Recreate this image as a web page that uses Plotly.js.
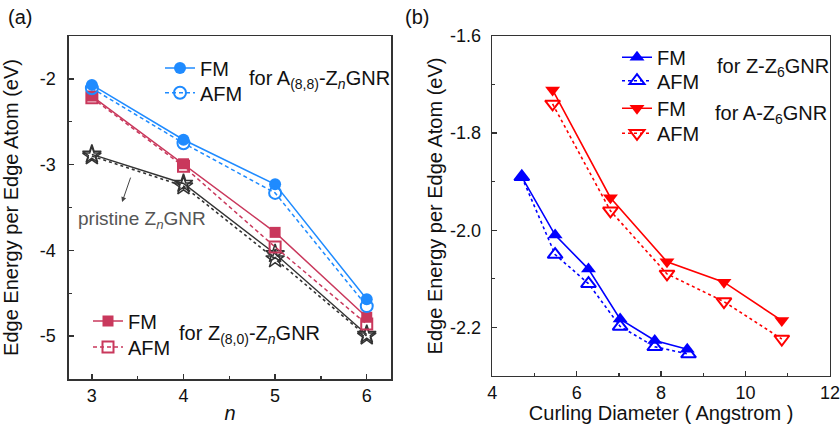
<!DOCTYPE html>
<html>
<head>
<meta charset="utf-8">
<script src="https://cdn.plot.ly/plotly-3.0.1.min.js"></script>
<style>html,body{margin:0;padding:0;background:#fff;}#chart{width:840px;height:424px;}</style>
</head>
<body>
<div id="chart"></div>
<script>
// ---- Panel (a) data ----
var nVals = [3, 4, 5, 6];
var fmA88 = [-2.07, -2.71, -3.23, -4.57];
var afmA88 = [-2.11, -2.75, -3.33, -4.65];
var fmZ80 = [-2.20, -2.99, -3.79, -4.78];
var afmZ80 = [-2.22, -3.02, -3.96, -4.86];
var pristineSolid = [-2.88, -3.22, -4.04, -4.98];
var pristineDotted = [-2.90, -3.25, -4.10, -5.00];
var aXTickVals = [3, 4, 5, 6];
var aXTickText = ["3", "4", "5", "6"];
var aYTickVals = [-2, -3, -4, -5];
var aYTickText = ["-2", "-3", "-4", "-5"];

// ---- Panel (b) data ----
var dZfm = [4.70, 5.49, 6.28, 7.03, 7.85, 8.62];
var eZfm = [-1.89, -2.01, -2.08, -2.183, -2.227, -2.245];
var dZafm = [4.70, 5.49, 6.28, 7.03, 7.85, 8.65];
var eZafm = [-1.89, -2.05, -2.11, -2.198, -2.24, -2.255];
var dA = [5.43, 6.80, 8.14, 9.49, 10.86];
var eAfm = [-1.711, -1.933, -2.065, -2.107, -2.186];
var eAafm = [-1.74, -1.96, -2.09, -2.147, -2.224];
var bXTickVals = [4, 6, 8, 10, 12];
var bXTickText = ["4", "6", "8", "10", "12"];
var bYTickVals = [-1.6, -1.8, -2.0, -2.2];
var bYTickText = ["-1.6", "-1.8", "-2.0", "-2.2"];

var cBlueA = "#1f8bff", cRedA = "#c9385c", cStar = "#333333";
var cBlueB = "#0000ff", cRedB = "#ff0000";
var FONT = "Liberation Sans, Arial, sans-serif";

var traces = [
  {x: nVals, y: pristineDotted, mode: "lines+markers", xaxis: "x", yaxis: "y", showlegend: false,
   line: {color: cStar, width: 1.6, dash: "dot"}, marker: {symbol: "star-open", size: 14, color: cStar, line: {width: 1.5, color: cStar}}},
  {x: nVals, y: pristineSolid, mode: "lines+markers", xaxis: "x", yaxis: "y", showlegend: false,
   line: {color: cStar, width: 1.4}, marker: {symbol: "star-open", size: 14, color: cStar, line: {width: 1.5, color: cStar}}},
  {x: nVals, y: afmZ80, mode: "lines+markers", name: "AFM", xaxis: "x", yaxis: "y", legend: "legend4",
   line: {color: cRedA, width: 1.5, dash: "4px,3px"}, marker: {symbol: "square-open", size: 11, color: cRedA, line: {width: 2, color: cRedA}}},
  {x: nVals, y: fmZ80, mode: "lines+markers", name: "FM", xaxis: "x", yaxis: "y", legend: "legend3",
   line: {color: cRedA, width: 1.5}, marker: {symbol: "square", size: 11, color: cRedA}},
  {x: nVals, y: fmA88, mode: "lines+markers", name: "FM", xaxis: "x", yaxis: "y", legend: "legend",
   line: {color: cBlueA, width: 1.5}, marker: {symbol: "circle", size: 12, color: cBlueA}},
  {x: nVals, y: afmA88, mode: "lines+markers", name: "AFM", xaxis: "x", yaxis: "y", legend: "legend2",
   line: {color: cBlueA, width: 1.5, dash: "4px,3px"}, marker: {symbol: "circle-open", size: 12, color: cBlueA, line: {width: 2, color: cBlueA}}},

  {x: dZfm, y: eZfm, mode: "lines+markers", name: "FM", xaxis: "x2", yaxis: "y2", legend: "legend5",
   line: {color: cBlueB, width: 1.6}, marker: {symbol: "triangle-up", size: 13, color: cBlueB}},
  {x: dZafm, y: eZafm, mode: "lines+markers", name: "AFM", xaxis: "x2", yaxis: "y2", legend: "legend6",
   line: {color: cBlueB, width: 1.6, dash: "3px,3px"}, marker: {symbol: "triangle-up-open", size: 13, color: cBlueB, line: {width: 2, color: cBlueB}}},
  {x: dA, y: eAfm, mode: "lines+markers", name: "FM", xaxis: "x2", yaxis: "y2", legend: "legend7",
   line: {color: cRedB, width: 1.6}, marker: {symbol: "triangle-down", size: 13, color: cRedB}},
  {x: dA, y: eAafm, mode: "lines+markers", name: "AFM", xaxis: "x2", yaxis: "y2", legend: "legend8",
   line: {color: cRedB, width: 1.6, dash: "3px,3px"}, marker: {symbol: "triangle-down-open", size: 13, color: cRedB, line: {width: 2, color: cRedB}}}
];

var axBase = {
  showgrid: false, zeroline: false, showline: true, mirror: true, automargin: false,
  linecolor: "#333", linewidth: 1.5, ticks: "inside", ticklen: 5, tickwidth: 1.3, tickcolor: "#333",
  tickfont: {family: FONT, size: 18, color: "#111"}
};
function ax(extra) { var o = JSON.parse(JSON.stringify(axBase)); for (var k in extra) o[k] = extra[k]; return o; }

var legFont = {family: FONT, size: 20, color: "#111"};
function leg(px, py) {
  return {x: px / 840, y: (379 - py) / 343, xanchor: "left", yanchor: "middle", bgcolor: "rgba(0,0,0,0)", font: legFont};
}
var layout = {
  width: 840, height: 424,
  margin: {l: 0, r: 0, t: 36, b: 45},
  paper_bgcolor: "#fff", plot_bgcolor: "#fff",
  font: {family: FONT},
  xaxis: ax({domain: [0.0821, 0.4655], range: [2.75, 6.265], tickvals: aXTickVals, ticktext: aXTickText,
    minor: {dtick: 0.5, tick0: 2.5, ticks: "inside", ticklen: 3, tickcolor: "#333"},
    title: {text: "<i>n</i>", font: {family: FONT, size: 20, color: "#111"}}}),
  yaxis: ax({domain: [0, 1], range: [-5.5, -1.5], tickvals: aYTickVals, ticktext: aYTickText, ticklabelstandoff: 8,
    minor: {dtick: 0.5, tick0: -5.5, ticks: "inside", ticklen: 3, tickcolor: "#333"},
    title: {text: "Edge Energy per Edge Atom (eV)", font: {family: FONT, size: 20, color: "#111"}}}),
  xaxis2: ax({domain: [0.586, 0.988], range: [4, 12], anchor: "y2", tickvals: bXTickVals, ticktext: bXTickText,
    minor: {dtick: 1, tick0: 4, ticks: "inside", ticklen: 3, tickcolor: "#333"},
    title: {text: "Curling Diameter ( Angstrom )", font: {family: FONT, size: 20, color: "#111"}}}),
  yaxis2: ax({domain: [0.009, 1], range: [-2.3, -1.6], anchor: "x2", tickvals: bYTickVals, ticktext: bYTickText, ticklabelstandoff: 6,
    minor: {dtick: 0.1, tick0: -2.3, ticks: "inside", ticklen: 3, tickcolor: "#333"},
    title: {text: "Edge Energy per Edge Atom (eV)", font: {family: FONT, size: 20, color: "#111"}}}),
  legend: leg(160, 68),
  legend2: leg(160, 92.7),
  legend3: leg(88, 321),
  legend4: leg(88, 347),
  legend5: leg(617, 57.3),
  legend6: leg(617, 80.7),
  legend7: leg(617, 108.3),
  legend8: leg(617, 133.3),
  annotations: [
    {text: "for A<sub>(8,8)</sub>-Z<sub><i>n</i></sub>GNR", xref: "paper", yref: "paper", x: 0.294, y: 0.872, xanchor: "left", yanchor: "middle", showarrow: false, font: legFont},
    {text: "for Z<sub>(8,0)</sub>-Z<sub><i>n</i></sub>GNR", xref: "paper", yref: "paper", x: 0.2107, y: 0.131, xanchor: "left", yanchor: "middle", showarrow: false, font: legFont},
    {text: "pristine Z<sub><i>n</i></sub>GNR", xref: "paper", yref: "paper", x: 0.0905, y: 0.4636, xanchor: "left", yanchor: "middle", showarrow: false, font: {family: FONT, size: 19, color: "#555"}},
    {text: "", xref: "x", yref: "y", x: 3.33, y: -3.437, ax: 9, ay: -26, showarrow: true, arrowhead: 2, arrowsize: 1, arrowwidth: 1, arrowcolor: "#444"},
    {text: "for Z-Z<sub>6</sub>GNR", xref: "paper", yref: "paper", x: 0.851, y: 0.907, xanchor: "left", yanchor: "middle", showarrow: false, font: legFont},
    {text: "for A-Z<sub>6</sub>GNR", xref: "paper", yref: "paper", x: 0.849, y: 0.77, xanchor: "left", yanchor: "middle", showarrow: false, font: legFont},
    {text: "(a)", xref: "paper", yref: "paper", x: 0.024, y: 1.055, xanchor: "center", yanchor: "middle", showarrow: false, font: legFont},
    {text: "(b)", xref: "paper", yref: "paper", x: 0.497, y: 1.055, xanchor: "center", yanchor: "middle", showarrow: false, font: legFont}
  ]
};

Plotly.newPlot("chart", traces, layout, {displayModeBar: false, staticPlot: true});
</script>
</body>
</html>
